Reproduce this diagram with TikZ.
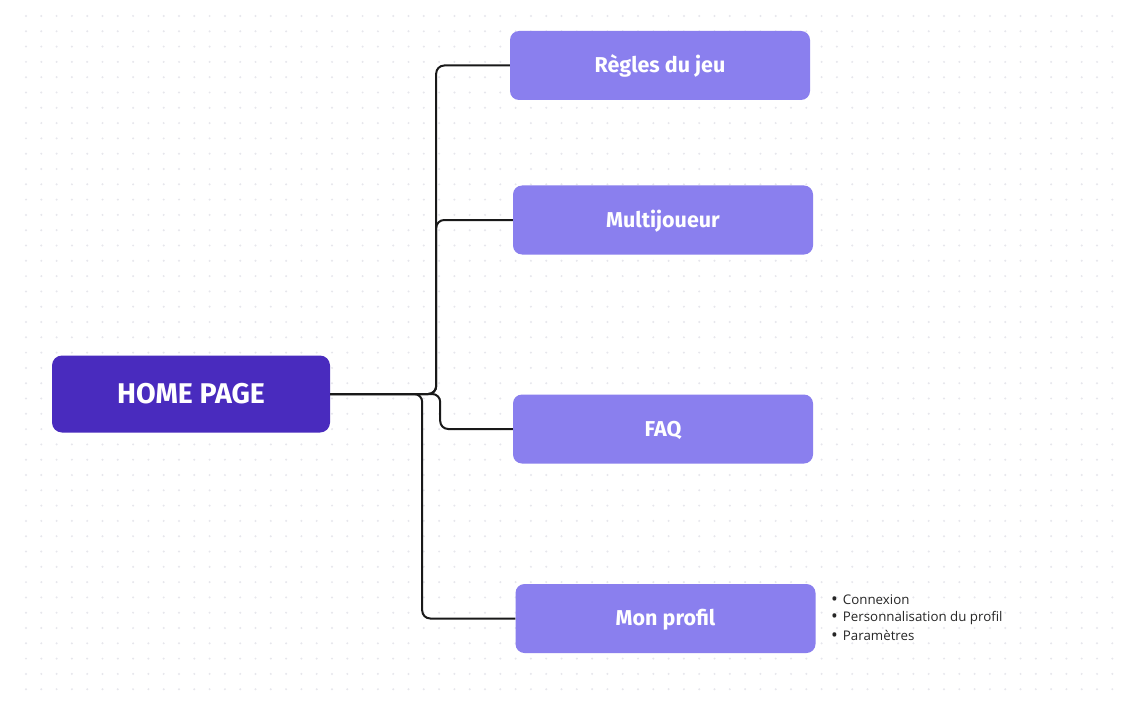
\documentclass[tikz,border=0pt]{standalone}
\usepackage{fontspec}
\setmainfont{Fira Sans}
\newfontfamily\smallfont{Open Sans}
\definecolor{homecol}{RGB}{73,43,190}
\definecolor{childcol}{RGB}{138,127,238}
\definecolor{dotcol}{RGB}{230,230,236}
\definecolor{linecol}{RGB}{25,25,25}
\tikzset{
  homebox/.style={rectangle, rounded corners=10pt, fill=homecol, text=white,
    minimum width=278pt, minimum height=77pt, inner sep=0pt,
    text height=19.6pt, text depth=0pt,
    font=\fontsize{28.5}{30}\selectfont\bfseries},
  childbox/.style={rectangle, rounded corners=9pt, fill=childcol, text=white,
    minimum width=300pt, minimum height=69pt, inner sep=0pt,
    text height=14.8pt, text depth=0pt,
    font=\fontsize{21.5}{24}\selectfont\bfseries},
  conn/.style={draw=linecol, line width=2pt, rounded corners=8pt},
  bullettext/.style={anchor=west, inner sep=0pt, font=\smallfont\fontsize{13.3}{15}\selectfont, text=black!85}
}
\newcommand{\mybul}{{\fontsize{18}{15}\selectfont\raisebox{-1pt}{•}}\hspace{5pt}}
\begin{document}
\begin{tikzpicture}[x=1pt,y=-1pt]
\useasboundingbox (0,0) rectangle (1126,722);
\fill[white] (0,0) rectangle (1126,722);
\foreach \i in {0,...,71}{
  \foreach \j in {0,...,44}{
    \fill[dotcol] (26+\i*15.3, 16+\j*15.3) circle (1.1pt);
  }
}
\node[homebox] (home) at (191,394) {HOME PAGE};
\node[childbox] (regles) at (660,65.5) {Règles du jeu};
\node[childbox] (multi) at (663,220) {Multijoueur};
\node[childbox] (faq) at (663,429) {FAQ};
\node[childbox] (profil) at (665.5,618.5) {Mon profil};

\draw[conn] (home.east) -- ++(106,0) |- (regles.west);
\draw[conn] (home.east) -- ++(106,0) |- (multi.west);
\draw[conn] (home.east) -- ++(110,0) |- (faq.west);
\draw[conn] (home.east) -- ++(92,0) |- (profil.west);

\node[bullettext] (b1) at (831,600) {\mybul Connexion};
\node[bullettext] (b2) at (831,618) {\mybul Personnalisation du profil};
\node[bullettext] (b3) at (831,636) {\mybul Paramètres};
\end{tikzpicture}
\end{document}
